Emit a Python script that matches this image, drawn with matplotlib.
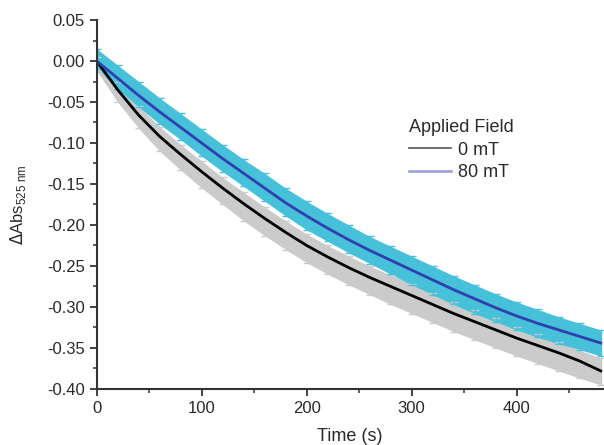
import matplotlib
matplotlib.use("Agg")
import matplotlib.pyplot as plt
from matplotlib.lines import Line2D
from matplotlib.ticker import MultipleLocator

plt.rcParams["font.family"] = ["Liberation Sans", "DejaVu Sans"]

# ── Data (time in s, ΔAbs at 525 nm) ─────────────────────────────────────────
time_s = [0, 20, 40, 60, 80, 100, 120, 140, 160, 180, 200, 220, 240,
          260, 280, 300, 320, 340, 360, 380, 400, 420, 440, 460, 480]

fit_0mT = [0.000, -0.035, -0.066, -0.092, -0.114, -0.135, -0.155, -0.174,
           -0.192, -0.209, -0.225, -0.239, -0.252, -0.264, -0.275, -0.286,
           -0.297, -0.308, -0.318, -0.328, -0.338, -0.347, -0.356, -0.366,
           -0.378]
fit_80mT = [0.000, -0.021, -0.042, -0.062, -0.081, -0.100, -0.119, -0.137,
            -0.155, -0.173, -0.189, -0.204, -0.218, -0.231, -0.243, -0.255,
            -0.267, -0.279, -0.290, -0.301, -0.311, -0.320, -0.328, -0.336,
            -0.344]

# error envelopes of the raw traces (lower, upper)
lo_0mT = [-0.012, -0.050, -0.082, -0.110, -0.133, -0.155, -0.175, -0.195,
          -0.213, -0.230, -0.246, -0.260, -0.273, -0.285, -0.297, -0.308,
          -0.319, -0.330, -0.340, -0.350, -0.360, -0.369, -0.378, -0.387,
          -0.395]
hi_0mT = [0.005, -0.025, -0.055, -0.080, -0.102, -0.122, -0.142, -0.160,
          -0.178, -0.195, -0.211, -0.225, -0.238, -0.250, -0.261, -0.272,
          -0.283, -0.294, -0.304, -0.314, -0.324, -0.333, -0.343, -0.353,
          -0.362]
lo_80mT = [-0.008, -0.034, -0.056, -0.077, -0.096, -0.116, -0.135, -0.153,
           -0.171, -0.189, -0.206, -0.220, -0.234, -0.247, -0.260, -0.273,
           -0.285, -0.297, -0.308, -0.318, -0.328, -0.337, -0.345, -0.352,
           -0.360]
hi_80mT = [0.015, -0.005, -0.025, -0.045, -0.064, -0.083, -0.102, -0.120,
           -0.137, -0.155, -0.171, -0.186, -0.200, -0.214, -0.226, -0.238,
           -0.250, -0.262, -0.273, -0.284, -0.294, -0.303, -0.312, -0.320,
           -0.328]

CYAN = "#46c1d9"
GREY = "#cbcbcb"
BLUE = "#2f3fae"
INK = "#2a2a2a"

fig = plt.figure(figsize=(6.04, 4.45), dpi=100)
ax = fig.add_axes([0.160, 0.126, 0.838, 0.829])

ax.fill_between(time_s, lo_0mT, hi_0mT, color=GREY, lw=0)
ax.fill_between(time_s, lo_80mT, hi_80mT, color=CYAN, lw=0)
# error-bar caps of the raw traces, for the ragged edge of each band
ax.errorbar(time_s, fit_0mT, yerr=[[f - l for f, l in zip(fit_0mT, lo_0mT)],
                                   [h - f for f, h in zip(fit_0mT, hi_0mT)]],
            fmt="none", ecolor=GREY, elinewidth=1, capsize=3, capthick=1)
ax.errorbar(time_s, fit_80mT, yerr=[[f - l for f, l in zip(fit_80mT, lo_80mT)],
                                    [h - f for f, h in zip(fit_80mT, hi_80mT)]],
            fmt="none", ecolor=CYAN, elinewidth=1, capsize=3, capthick=1)
ax.plot(time_s, fit_0mT, color="black", lw=2)
ax.plot(time_s, fit_80mT, color=BLUE, lw=2)

ax.set_xlim(0, 482)
ax.set_ylim(-0.40, 0.05)
ax.xaxis.set_major_locator(MultipleLocator(100))
ax.xaxis.set_minor_locator(MultipleLocator(50))
ax.yaxis.set_major_locator(MultipleLocator(0.05))
ax.yaxis.set_minor_locator(MultipleLocator(0.025))
ax.yaxis.set_major_formatter(lambda v, _: f"{v:.2f}")

for side in ("top", "right"):
    ax.spines[side].set_visible(False)
for side in ("left", "bottom"):
    ax.spines[side].set_color("#333333")
    ax.spines[side].set_linewidth(1.5)
ax.tick_params(which="major", direction="out", length=5, width=1.3,
               color="#333333", labelsize=12, labelcolor=INK)
ax.tick_params(which="minor", direction="out", length=3, width=1.1,
               color="#333333")

ax.set_xlabel("Time (s)", fontsize=13, color=INK, labelpad=9)
ax.set_ylabel(r"$\Delta$Abs$_{\mathregular{525\ nm}}$", fontsize=12, color=INK)
ax.yaxis.set_label_coords(-0.136, 0.5)

handles = [Line2D([], [], color="#555555", lw=1.2),
           Line2D([], [], color="#9a9ad8", lw=1.8)]
leg = ax.legend(handles, ["0 mT", "80 mT"], title="Applied Field",
                loc="upper left", bbox_to_anchor=(0.585, 0.775), frameon=False,
                fontsize=13, title_fontsize=13, handlelength=2.3,
                handletextpad=0.4, labelspacing=0.3, alignment="left")
for t in leg.get_texts() + [leg.get_title()]:
    t.set_color(INK)

fig.savefig("out.png", dpi=100)
